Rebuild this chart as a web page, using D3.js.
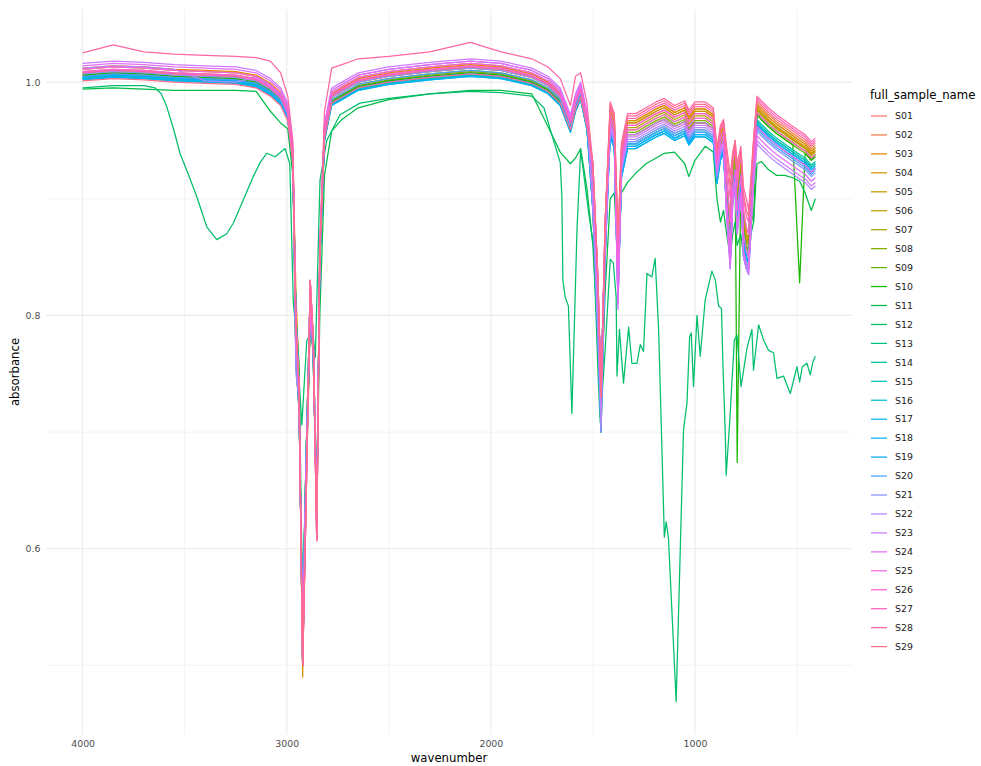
<!DOCTYPE html>
<meta charset="utf-8">
<body style="margin:0;background:#fff">
<svg width="981" height="766"></svg>

<script src="https://cdn.jsdelivr.net/npm/d3@7/dist/d3.min.js"></script>
<script>

// wavenumber grid (cm-1) shared by the samples
var wavenumber = [4000, 3850, 3700, 3550, 3400, 3250, 3150, 3080, 3030, 2995,
  2970, 2955, 2940, 2922, 2905, 2885, 2870, 2853, 2838, 2815,
  2780, 2730, 2650, 2500, 2300, 2100, 1950, 1800, 1720, 1660,
  1610, 1585, 1560, 1530, 1500, 1475, 1460, 1440, 1415, 1395,
  1377, 1360, 1330, 1290, 1240, 1190, 1150, 1100, 1050, 1030,
  1000, 950, 910, 892, 875, 860, 845, 827, 815, 803,
  793, 775, 762, 748, 737, 725, 713, 696, 675, 640,
  600, 560, 520, 487, 460, 430, 410];

// S12 has its own bands, so it gets its own grid
var wavenumberS12 = [4000, 3850, 3700, 3645, 3615, 3588, 3555, 3523, 3480, 3441,
  3392, 3343, 3294, 3262, 3213, 3164, 3131,
  3098, 3057, 3008, 2985, 2968, 2951, 2926, 2902, 2885, 2870,
  2860, 2837, 2804, 2739, 2641, 2500, 2300, 2100, 1950, 1800,
  1740, 1693, 1660, 1652, 1647, 1636, 1620, 1603, 1587, 1578,
  1560, 1521, 1497, 1473, 1464, 1440, 1415, 1400, 1386, 1382,
  1370, 1350, 1325, 1309, 1284, 1268, 1252, 1235, 1211, 1195,
  1178, 1162, 1150, 1141, 1130, 1092, 1072, 1056, 1039, 1026,
  1018, 1007, 990, 974, 950, 917, 900, 884, 870, 863,
  851, 847, 830, 807, 794, 774, 745, 721, 713, 688,
  664, 639, 615, 598, 566, 533, 500, 487, 474, 451,
  435, 422, 410];

// absorbance per sample
var s01 = [1.006,1.008,1.007,1.005,1.004,1.003,1.000,.993,.985,.972,.935, .80,.74,.50,.66,.80,.77,.625,
  .852,.957,.987,.992,1.000,1.005,1.009,1.012,1.010,1.004,.997,.987,.964,.982,.992,.967, .90,.80,.72,.86, .973,.963, .84,
  .938,.963,.963,.968,.973,.976,.970,.974,.966,.973,.973,.968,.933,.953,.958,
  .915,.875,.925,.94,.905,.935,.885,.87,.865,.905, .943,.980,.976,.970,.964,.959,.954,.950,.947,.941,.944];
var s02 = [1.009,1.011,1.010,1.008,1.007,1.006,1.003,.996,.988,.975,.938, .78,.73,.52,.67,.81,.78,.63,
  .853,.958,.988,.993,1.001,1.006,1.010,1.013,1.011,1.005,.998,.988,.965,.983,.993,.968, .92,.82,.74,.87, .975,.965, .845,
  .940,.965,.965,.970,.975,.978,.972,.976,.968,.975,.975,.970,.935,.955,.960,
  .92,.88,.93,.945,.91,.94,.89,.875,.87,.91, .945,.982,.978,.972,.966,.961,.956,.952,.949,.943,.946];
var s03 = [1.012,1.014,1.013,1.011,1.010,1.009,1.006,.999,.991,.978,.941, .76,.72,.54,.68,.82,.76,.64,
  .855,.960,.990,.995,1.003,1.008,1.012,1.015,1.013,1.007,1.000,.990,.967,.985,.995,.970, .90,.80,.72,.86, .977,.967, .85,
  .942,.967,.967,.972,.977,.980,.974,.978,.970,.977,.977,.972,.937,.957,.962,
  .915,.88,.925,.945,.905,.935,.88,.87,.86,.905, .940,.977,.973,.967,.961,.956,.951,.947,.944,.938,.941];
var s04 = [1.011,1.013,1.012,1.010,1.009,1.008,1.005,.998,.990,.977,.940, .82,.75,.49,.65,.79,.77,.61,
  .856,.961,.991,.996,1.004,1.009,1.013,1.016,1.014,1.008,1.001,.991,.968,.986,.996,.971, .89,.78,.70,.85, .977,.967, .83,
  .942,.967,.967,.972,.977,.980,.974,.978,.970,.977,.977,.972,.937,.957,.962,
  .91,.86,.92,.94,.90,.935,.875,.86,.855,.90, .943,.980,.976,.970,.964,.959,.954,.950,.947,.941,.944];
var s05 = [1.008,1.010,1.009,1.007,1.006,1.005,1.002,.995,.987,.974,.937, .80,.74,.50,.66,.80,.77,.625,
  .854,.959,.989,.994,1.002,1.007,1.011,1.014,1.012,1.006,.999,.989,.966,.984,.994,.969, .92,.82,.74,.87, .975,.965, .84,
  .940,.965,.965,.970,.975,.978,.972,.976,.968,.975,.975,.970,.935,.955,.960,
  .915,.875,.925,.94,.905,.935,.885,.87,.865,.905, .941,.978,.974,.968,.962,.957,.952,.948,.945,.939,.942];
var s06 = [1.007,1.009,1.008,1.006,1.005,1.004,1.001,.994,.986,.973,.936, .78,.73,.52,.67,.81,.78,.63,
  .852,.957,.987,.992,1.000,1.005,1.009,1.012,1.010,1.004,.997,.987,.964,.982,.992,.967, .90,.80,.72,.86, .971,.961, .835,
  .936,.961,.961,.966,.971,.974,.968,.972,.964,.971,.971,.966,.931,.951,.956,
  .91,.87,.92,.935,.90,.93,.88,.865,.86,.90, .939,.976,.972,.966,.960,.955,.950,.946,.943,.937,.940];
var s07 = [1.006,1.008,1.007,1.005,1.004,1.003,1.000,.993,.985,.972,.935, .76,.72,.54,.68,.82,.76,.64,
  .850,.955,.985,.990,.998,1.003,1.007,1.010,1.008,1.002,.995,.985,.962,.980,.990,.965, .92,.82,.74,.87, .969,.959, .83,
  .934,.959,.959,.964,.969,.972,.966,.970,.962,.969,.969,.964,.929,.949,.954,
  .905,.865,.915,.93,.895,.925,.875,.86,.855,.895, .937,.974,.970,.964,.958,.953,.948,.944,.941,.935,.938];
var s08 = [1.005,1.007,1.006,1.004,1.003,1.002,.999,.992,.984,.971,.934, .80,.74,.50,.66,.80,.77,.625,
  .849,.954,.984,.989,.997,1.002,1.006,1.009,1.007,1.001,.994,.984,.961,.979,.989,.964, .90,.80,.72,.86, .967,.957, .825,
  .932,.957,.957,.962,.967,.970,.964,.968,.960,.967,.967,.962,.927,.947,.952,
  .905,.865,.915,.93,.895,.925,.875,.86,.855,.895, .937,.974,.970,.964,.958,.953,.948,.944,.941,.935,.938];
var s09 = [1.005,1.007,1.006,1.004,1.003,1.002,.999,.992,.984,.971,.934, .78,.73,.52,.67,.81,.78,.63,
  .848,.953,.983,.988,.996,1.001,1.005,1.008,1.006,1.000,.993,.983,.960,.978,.988,.963, .89,.78,.70,.85, .965,.955, .83,
  .930,.955,.955,.960,.965,.968,.962,.966,.958,.965,.965,.960,.925,.945,.950,
  .90,.86,.91,.925,.89,.92,.87,.855,.85,.89, .935,.972,.968,.962,.956,.951,.946,.942,.939,.933,.936];
var s10 = [1.006,1.008,1.007,1.005,1.004,1.003,1.000,.993,.985,.972,.935, .80,.74,.50,.66,.80,.77,.625,
  .848,.953,.983,.988,.996,1.001,1.005,1.008,1.006,1.000,.993,.983,.960,.978,.988,.963, .90,.80,.72,.86, .965,.955, .835,
  .930,.955,.955,.960,.965,.968,.962,.966,.958,.965,.965,.960,.925,.945,.950,
  .90,.85,.91,.925,.674,.92,.86,.85,.845,.89, .88,.972,.968,.962,.956,.951,.946,.828,.939,.933,.936];
var s11 = [.994,.995,.994,.993,.993,.993,.992,.975,.965,.96,.92, .80,.76,.55,.68,.81,.77,.63,
  .80,.92,.958,.968,.978,.985,.99,.993,.993,.99,.962,.94,.93,.935,.943,.91, .86,.78,.72,.82, .90,.905, .84,
  .905,.914,.922,.93,.935,.939,.94,.93,.919,.933,.945,.94,.90,.88,.89,
  .87,.85,.87,.88,.86,.87,.85,.84,.845,.87, .88,.93,.932,.925,.92,.92,.918,.915,.905,.89,.90];
var s12 = [.995,.997,.997,.995,.99,.979,.96,.939,.92,.902,
  .876,.865,.870,.879,.899,.919,.931,
  .939,.936,.943,.93,.812,.778,.706,.778,.784,.782,
  .764,.916,.95,.972,.982,.986,.99,.992,.991,.988,
  .978,.95,.931,.902,.83,.816,.808,.716,.816,.873,
  .942,.888,.86,.742,.708,.77,.848,.845,.816,.748,
  .788,.742,.79,.759,.759,.775,.769,.836,.833,.849,
  .788,.687,.61,.623,.61,.469,.599,.702,.725,.782,
  .785,.739,.80,.765,.813,.838,.83,.808,.806,.759,
  .696,.663,.708,.779,.783,.739,.772,.788,.753,.792,
  .779,.77,.768,.746,.748,.733,.756,.743,.756,.759,
  .749,.76,.765];
var s13 = [1.003,1.005,1.004,1.002,1.001,1.000,.997,.990,.982,.969,.932, .76,.72,.54,.68,.82,.76,.64,
  .846,.951,.981,.986,.994,.999,1.003,1.006,1.004,.998,.991,.981,.958,.976,.986,.961, .92,.82,.74,.87, .957,.947, .82,
  .922,.947,.947,.952,.957,.960,.954,.958,.950,.957,.957,.952,.917,.937,.942,
  .90,.86,.91,.925,.89,.92,.87,.855,.85,.89, .929,.966,.962,.956,.950,.945,.940,.936,.933,.927,.930];
var s14 = [1.004,1.006,1.005,1.003,1.002,1.001,.998,.991,.983,.970,.933, .80,.74,.50,.66,.80,.77,.625,
  .847,.952,.982,.987,.995,1.000,1.004,1.007,1.005,.999,.992,.982,.959,.977,.987,.962, .90,.80,.72,.86, .959,.949, .825,
  .924,.949,.949,.954,.959,.962,.956,.960,.952,.959,.959,.954,.919,.939,.944,
  .90,.86,.91,.925,.89,.92,.87,.855,.85,.89, .931,.968,.964,.958,.952,.947,.942,.938,.935,.929,.932];
var s15 = [1.003,1.005,1.004,1.002,1.001,1.000,.997,.990,.982,.969,.932, .78,.73,.52,.67,.81,.78,.63,
  .847,.952,.982,.987,.995,1.000,1.004,1.007,1.005,.999,.992,.982,.959,.977,.987,.962, .89,.78,.70,.85, .957,.947, .82,
  .922,.947,.947,.952,.957,.960,.954,.958,.950,.957,.957,.952,.917,.937,.942,
  .895,.855,.905,.92,.885,.915,.865,.85,.845,.885, .929,.966,.962,.956,.950,.945,.940,.936,.933,.927,.930];
var s16 = [1.002,1.004,1.003,1.001,1.000,.999,.996,.989,.981,.968,.931, .80,.74,.50,.66,.80,.77,.625,
  .846,.951,.981,.986,.994,.999,1.003,1.006,1.004,.998,.991,.981,.958,.976,.986,.961, .92,.82,.74,.87, .955,.945, .815,
  .920,.945,.945,.950,.955,.958,.952,.956,.948,.955,.955,.950,.915,.935,.940,
  .895,.855,.905,.92,.885,.915,.865,.85,.845,.885, .927,.964,.960,.954,.948,.943,.938,.934,.931,.925,.928];
var s17 = [1.003,1.005,1.004,1.002,1.001,1.000,.997,.990,.982,.969,.932, .76,.72,.54,.68,.82,.76,.64,
  .845,.950,.980,.985,.993,.998,1.002,1.005,1.003,.997,.990,.980,.957,.975,.985,.960, .90,.80,.72,.86, .953,.943, .82,
  .918,.943,.943,.948,.953,.956,.950,.954,.946,.953,.953,.948,.913,.933,.938,
  .89,.85,.90,.915,.88,.91,.86,.845,.84,.88, .925,.962,.958,.952,.946,.941,.936,.932,.929,.923,.926];
var s18 = [1.002,1.004,1.003,1.001,1.000,.999,.996,.989,.981,.968,.931, .78,.73,.52,.67,.81,.78,.63,
  .845,.950,.980,.985,.993,.998,1.002,1.005,1.003,.997,.990,.980,.957,.975,.985,.960, .92,.82,.74,.87, .953,.943, .815,
  .918,.943,.943,.948,.953,.956,.950,.954,.946,.953,.953,.948,.913,.933,.938,
  .89,.85,.90,.915,.88,.91,.86,.845,.84,.88, .925,.962,.958,.952,.946,.941,.936,.932,.929,.923,.926];
var s19 = [1.004,1.006,1.005,1.003,1.002,1.001,.998,.991,.983,.970,.933, .80,.74,.50,.66,.80,.77,.625,
  .847,.952,.982,.987,.995,1.000,1.004,1.007,1.005,.999,.992,.982,.959,.977,.987,.962, .89,.78,.70,.85, .955,.945, .82,
  .920,.945,.945,.950,.955,.958,.952,.956,.948,.955,.955,.950,.915,.935,.940,
  .895,.855,.905,.92,.885,.915,.865,.85,.845,.885, .927,.964,.960,.954,.948,.943,.938,.934,.931,.925,.928];
var s20 = [1.005,1.007,1.006,1.004,1.003,1.002,.999,.992,.984,.971,.934, .76,.72,.54,.68,.82,.76,.64,
  .850,.955,.985,.990,.998,1.003,1.007,1.010,1.008,1.002,.995,.985,.962,.980,.990,.965, .90,.80,.72,.86, .957,.947, .81,
  .922,.947,.947,.952,.957,.960,.954,.958,.950,.957,.957,.952,.917,.937,.942,
  .89,.845,.90,.915,.875,.905,.855,.84,.84,.88, .923,.960,.956,.950,.944,.939,.934,.930,.927,.921,.924];
var s21 = [1.007,1.009,1.008,1.006,1.005,1.004,1.001,.994,.986,.973,.936, .78,.73,.52,.67,.81,.78,.63,
  .852,.957,.987,.992,1.000,1.005,1.009,1.012,1.010,1.004,.997,.987,.964,.982,.992,.967, .92,.82,.74,.87, .959,.949, .815,
  .924,.949,.949,.954,.959,.962,.956,.960,.952,.959,.959,.954,.919,.939,.944,
  .89,.845,.90,.915,.875,.905,.855,.84,.84,.88, .921,.958,.954,.948,.942,.937,.932,.928,.925,.919,.922];
var s22 = [1.012,1.014,1.013,1.011,1.001,1.000,1.004,.997,.989,.976,.940, .75,.73,.51,.66,.83,.78,.62,
  .858,.963,.993,.998,1.006,1.011,1.015,1.018,1.016,1.010,1.003,.993,.970,.988,.998,.973, .89,.78,.70,.85, .961,.951, .81,
  .926,.951,.951,.956,.961,.964,.958,.962,.954,.961,.961,.956,.921,.941,.946,
  .885,.84,.895,.91,.87,.90,.85,.84,.835,.875, .910,.947,.943,.937,.931,.926,.921,.917,.914,.908,.911];
var s23 = [1.016,1.018,1.017,1.015,1.014,1.013,1.010,1.003,.995,.982,.945, .79,.74,.50,.64,.83,.78,.607,
  .860,.965,.995,1.000,1.008,1.013,1.017,1.020,1.018,1.012,1.005,.995,.972,.990,1.000,.975, .90,.80,.72,.86, .963,.953, .805,
  .928,.953,.953,.958,.963,.966,.960,.964,.956,.963,.963,.958,.923,.943,.948,
  .885,.84,.895,.91,.87,.90,.85,.84,.835,.875, .913,.950,.946,.940,.934,.929,.924,.920,.917,.911,.914];
var s24 = [1.014,1.016,1.015,1.013,1.012,1.011,1.008,1.001,.993,.980,.943, .78,.73,.52,.67,.81,.78,.63,
  .858,.963,.993,.998,1.006,1.011,1.015,1.018,1.016,1.010,1.003,.993,.970,.988,.998,.973, .92,.82,.74,.87, .965,.955, .81,
  .930,.955,.955,.960,.965,.968,.962,.966,.958,.965,.965,.960,.925,.945,.950,
  .89,.845,.90,.915,.875,.905,.855,.845,.84,.88, .917,.954,.950,.944,.938,.933,.928,.924,.921,.915,.918];
var s25 = [1.011,1.013,1.012,1.010,1.009,1.008,1.005,.998,.990,.977,.940, .80,.74,.50,.66,.80,.77,.625,
  .856,.961,.991,.996,1.004,1.009,1.013,1.016,1.014,1.008,1.001,.991,.968,.986,.996,.971, .93,.83,.73,.88, .969,.959, .83,
  .934,.959,.959,.964,.969,.972,.966,.970,.962,.969,.969,.964,.929,.949,.954,
  .90,.86,.91,.925,.89,.92,.87,.855,.85,.89, .925,.962,.958,.952,.946,.941,.936,.932,.929,.923,.926];
var s26 = [1.009,1.011,1.010,1.008,1.007,1.006,1.003,.996,.988,.975,.938, .79,.74,.50,.64,.83,.78,.607,
  .854,.959,.989,.994,1.002,1.007,1.011,1.014,1.012,1.006,.999,.989,.966,.984,.994,.969, .93,.83,.73,.88, .973,.963, .85,
  .938,.963,.963,.968,.973,.976,.970,.974,.966,.973,.973,.968,.933,.953,.958,
  .92,.88,.93,.945,.91,.94,.89,.875,.87,.91, .937,.974,.970,.964,.958,.953,.948,.944,.941,.935,.938];
var s27 = [1.008,1.010,1.009,1.007,1.006,1.005,1.002,.995,.987,.974,.937, .79,.74,.50,.64,.83,.78,.607,
  .853,.958,.988,.993,1.001,1.006,1.010,1.013,1.011,1.005,.998,.988,.965,.983,.993,.968, .93,.83,.73,.88, .979,.969, .86,
  .944,.969,.969,.974,.979,.982,.976,.980,.972,.979,.979,.974,.939,.959,.964,
  .93,.90,.935,.945,.92,.94,.90,.885,.88,.915, .949,.986,.982,.976,.970,.965,.960,.956,.953,.947,.950];
var s28 = [1.025,1.032,1.026,1.024,1.023,1.022,1.021,1.018,1.008,.988,.95, .79,.74,.50,.64,.83,.78,.607,
  .86,.975,1.012,1.015,1.02,1.022,1.026,1.034,1.026,1.02,1.013,1.003,.98,1.005,1.008,.983, .93,.83,.73,.88, .983,.973, .865,
  .948,.973,.973,.978,.983,.986,.980,.984,.976,.983,.983,.978,.943,.963,.968,
  .945,.92,.94,.95,.93,.945,.91,.90,.89,.92, .951,.988,.984,.978,.972,.967,.962,.958,.955,.949,.952];
var s29 = [1.001,1.003,1.002,1.000,.999,.998,.995,.988,.980,.967,.930, .79,.74,.50,.64,.83,.78,.607,
  .847,.952,.982,.987,.995,1.000,1.004,1.007,1.005,.999,.992,.982,.959,.977,.987,.962, .93,.83,.73,.88, .981,.971, .87,
  .946,.971,.971,.976,.981,.984,.978,.982,.974,.981,.981,.976,.941,.961,.966,
  .94,.91,.935,.95,.925,.94,.905,.89,.885,.915, .947,.984,.980,.974,.968,.963,.958,.954,.951,.945,.948];

var sampleNames = ["S01","S02","S03","S04","S05","S06","S07","S08","S09","S10",
  "S11","S12","S13","S14","S15","S16","S17","S18","S19","S20",
  "S21","S22","S23","S24","S25","S26","S27","S28","S29"];

var xTicks = [4000, 3000, 2000, 1000], xMinor = [3500, 2500, 1500, 500];
var yTicks = [0.6, 0.8, 1.0], yMinor = [0.5, 0.7, 0.9];

var samples = [s01,s02,s03,s04,s05,s06,s07,s08,s09,s10,s11,s12,s13,s14,s15,
  s16,s17,s18,s19,s20,s21,s22,s23,s24,s25,s26,s27,s28,s29];

var series = sampleNames.map(function(name, i) {
  var xs = name === "S12" ? wavenumberS12 : wavenumber;
  if (xs.length !== samples[i].length) console.warn(name, "length mismatch");
  return {name: name, values: samples[i].map(function(v, j) { return [xs[j], v]; })};
});

// ggplot default hue palette: hcl(h, c = 100, l = 65), via CIE-Luv
function hcl(h, c, l) {
  var hr = h * Math.PI / 180,
      U = c * Math.cos(hr), V = c * Math.sin(hr),
      Xn = 95.047, Yn = 100, Zn = 108.883,
      Y = l > 8 ? Yn * Math.pow((l + 16) / 116, 3) : Yn * l / 903.3,
      den = Xn + 15 * Yn + 3 * Zn,
      u = U / (13 * l) + 4 * Xn / den,
      v = V / (13 * l) + 9 * Yn / den,
      X = 9 * Y * u / (4 * v),
      Z = -X / 3 - 5 * Y + 3 * Y / v;
  X /= 100; Y /= 100; Z /= 100;
  var rgb = [3.240479 * X - 1.537150 * Y - 0.498535 * Z,
            -0.969256 * X + 1.875992 * Y + 0.041556 * Z,
             0.055648 * X - 0.204043 * Y + 1.057311 * Z];
  rgb = rgb.map(function(t) {
    t = t <= 0.0031308 ? 12.92 * t : 1.055 * Math.pow(t, 1 / 2.4) - 0.055;
    return Math.round(255 * Math.max(0, Math.min(1, t)));
  });
  return d3.rgb(rgb[0], rgb[1], rgb[2]).formatHex();
}
var n = sampleNames.length;
var colour = d3.scaleOrdinal()
    .domain(sampleNames)
    .range(sampleNames.map(function(d, i) { return hcl(15 + 360 * i / n, 100, 65); }));

var svg = d3.select("svg"),
    font = "'DejaVu Sans', sans-serif",
    panel = {left: 46, right: 852, top: 9.5, bottom: 734.5};

// ranges with ggplot's 5% expansion
var xExt = d3.extent(wavenumber.concat(wavenumberS12)),
    yExt = [d3.min(samples, function(s) { return d3.min(s); }),
            d3.max(samples, function(s) { return d3.max(s); })],
    xPad = (xExt[1] - xExt[0]) * 0.05,
    yPad = (yExt[1] - yExt[0]) * 0.05;

var x = d3.scaleLinear()
    .domain([xExt[1] + xPad, xExt[0] - xPad])
    .range([panel.left, panel.right]);
var y = d3.scaleLinear()
    .domain([yExt[0] - yPad, yExt[1] + yPad])
    .range([panel.bottom, panel.top]);

// grid
var grid = svg.append("g").attr("fill", "none").attr("stroke", "#ebebeb");
grid.selectAll(".xminor").data(xMinor).enter().append("line")
    .attr("x1", x).attr("x2", x).attr("y1", panel.top).attr("y2", panel.bottom)
    .attr("stroke-width", 0.6);
grid.selectAll(".yminor").data(yMinor).enter().append("line")
    .attr("x1", panel.left).attr("x2", panel.right).attr("y1", y).attr("y2", y)
    .attr("stroke-width", 0.6);
grid.selectAll(".xmajor").data(xTicks).enter().append("line")
    .attr("x1", x).attr("x2", x).attr("y1", panel.top).attr("y2", panel.bottom)
    .attr("stroke-width", 1.1);
grid.selectAll(".ymajor").data(yTicks).enter().append("line")
    .attr("x1", panel.left).attr("x2", panel.right).attr("y1", y).attr("y2", y)
    .attr("stroke-width", 1.1);

// spectra, drawn in factor order
var line = d3.line()
    .x(function(d) { return x(d[0]); })
    .y(function(d) { return y(d[1]); });

svg.append("g").selectAll("path")
    .data(series)
  .enter().append("path")
    .attr("fill", "none")
    .attr("stroke", function(d) { return colour(d.name); })
    .attr("stroke-width", 1.25)
    .attr("stroke-linejoin", "round")
    .attr("d", function(d) { return line(d.values); });

// axes (no ticks or domain, theme_minimal)
var xAxis = svg.append("g")
    .attr("transform", "translate(0," + panel.bottom + ")")
    .call(d3.axisBottom(x).tickValues(xTicks).tickSize(0).tickPadding(6).tickFormat(d3.format("d")));
var yAxis = svg.append("g")
    .attr("transform", "translate(" + panel.left + ",0)")
    .call(d3.axisLeft(y).tickValues(yTicks).tickSize(0).tickPadding(5.5).tickFormat(d3.format(".1f")));
[xAxis, yAxis].forEach(function(a) {
  a.select(".domain").remove();
  a.attr("font-family", font).attr("font-size", 9.4);
  a.selectAll("text").attr("fill", "#4d4d4d");
});

svg.append("text")
    .attr("x", (panel.left + panel.right) / 2)
    .attr("y", 762)
    .attr("text-anchor", "middle")
    .attr("font-family", font).attr("font-size", 11.7)
    .text("wavenumber");

svg.append("text")
    .attr("transform", "translate(19," + (panel.top + panel.bottom) / 2 + ") rotate(-90)")
    .attr("text-anchor", "middle")
    .attr("font-family", font).attr("font-size", 11.7)
    .text("absorbance");

// legend
var legend = svg.append("g").attr("font-family", font);
legend.append("text")
    .attr("x", 870).attr("y", 99)
    .attr("font-size", 11.7)
    .text("full_sample_name");

var key = legend.selectAll(".key")
    .data(sampleNames)
  .enter().append("g")
    .attr("transform", function(d, i) { return "translate(0," + (116 + i * 18.95) + ")"; });
key.append("line")
    .attr("x1", 871).attr("x2", 887)
    .attr("stroke", colour)
    .attr("stroke-width", 1.25);
key.append("text")
    .attr("x", 895).attr("dy", "0.35em")
    .attr("font-size", 9.4)
    .attr("fill", "#1a1a1a")
    .text(function(d) { return d; });

</script>
</body>
